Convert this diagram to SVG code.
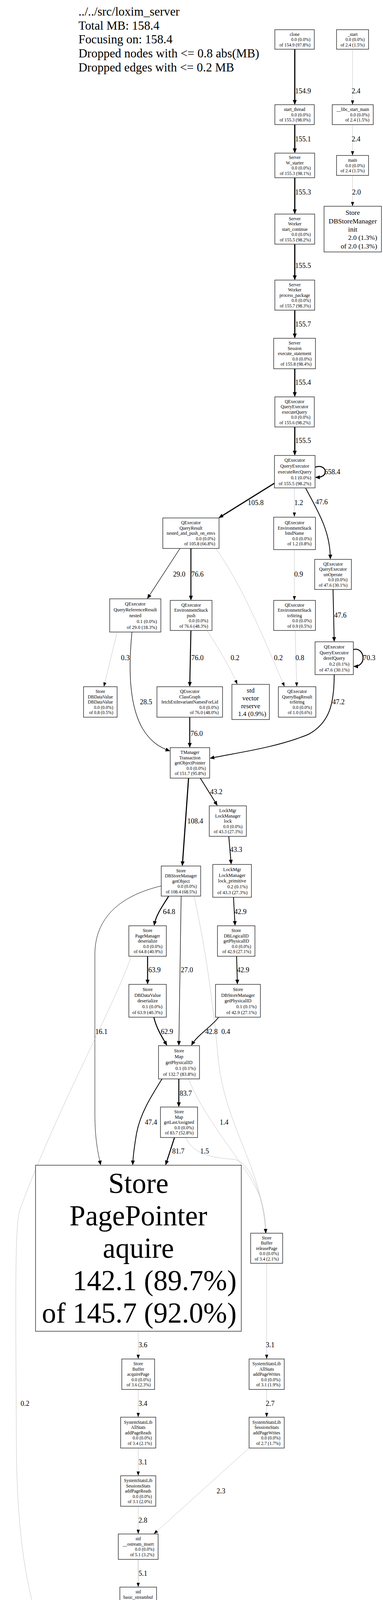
<svg xmlns="http://www.w3.org/2000/svg" width="981" height="4845" viewBox="0 0 981 4845">
<style>
text{font-family:"Liberation Serif","Times New Roman",serif;fill:#000}
.s{font-size:11.6px}
.md{font-size:12.2px}
.c{text-anchor:middle}
.r{text-anchor:end}
.l{font-size:18px}
.lc{font-size:18px;text-anchor:middle}
rect{fill:#fff;stroke:#333;stroke-width:1.5}
.e{fill:none;stroke:#000}
.f1{fill:none;stroke:#c4c4c4;stroke-width:1}
.f2{fill:none;stroke:#a0a0a0;stroke-width:1}
</style>
<defs>
<marker id="ah" markerUnits="userSpaceOnUse" markerWidth="12" markerHeight="10" refX="10" refY="5" orient="auto"><path d="M0,0 L12,5 L0,10 z" fill="#000"/></marker>
<marker id="as" markerUnits="userSpaceOnUse" markerWidth="11" markerHeight="8" refX="9" refY="4" orient="auto"><path d="M0,0 L11,4 L0,8 z" fill="#000"/></marker>
</defs>
<rect x="0" y="0" width="981" height="4845" style="fill:#fff;stroke:none"/>
<g id="legend" style="font-size:31.3px">
<text x="201" y="40">../../src/loxim_server</text>
<text x="201" y="75.7">Total MB: 158.4</text>
<text x="201" y="111.4">Focusing on: 158.4</text>
<text x="201" y="147.1">Dropped nodes with &lt;= 0.8 abs(MB)</text>
<text x="201" y="182.8">Dropped edges with &lt;= 0.2 MB</text>
</g>
<g id="edges">
<path class="e" stroke-width="3" marker-end="url(#ah)" d="M755 126V266"/>
<path class="f1" marker-end="url(#as)" d="M903 126V266"/>
<path class="e" stroke-width="3" marker-end="url(#ah)" d="M755 319V390"/>
<path class="f1" marker-end="url(#as)" d="M903 319V396"/>
<path class="e" stroke-width="3" marker-end="url(#ah)" d="M755 455V546"/>
<path class="f1" marker-end="url(#as)" d="M903 449V526"/>
<path class="e" stroke-width="3" marker-end="url(#ah)" d="M755 625V715"/>
<path class="e" stroke-width="3" marker-end="url(#ah)" d="M755 794V864"/>
<path class="e" stroke-width="3" marker-end="url(#ah)" d="M755 944V1014"/>
<path class="e" stroke-width="3" marker-end="url(#ah)" d="M755 1093V1164"/>
<path class="e" stroke-width="2.5" marker-end="url(#ah)" d="M807 1196C825 1190 834 1200 833 1209C832 1217 824 1222 809 1222"/>
<path class="e" stroke-width="3" marker-end="url(#ah)" d="M703 1237L561.7 1324.9"/>
<path class="f1" marker-end="url(#as)" d="M754 1249V1321"/>
<path class="e" stroke-width="2" marker-end="url(#ah)" d="M783 1250C815 1310 846 1360 846 1430"/>
<path class="e" stroke-width="1.3" marker-end="url(#ah)" d="M461 1404L378.1 1531.3"/>
<path class="e" stroke-width="2.5" marker-end="url(#ah)" d="M489 1404V1535"/>
<path class="f1" marker-end="url(#as)" d="M754 1407V1535"/>
<path class="e" stroke-width="2" marker-end="url(#ah)" d="M853 1509L856 1641"/>
<path class="e" stroke-width="2.5" marker-end="url(#ah)" d="M905 1663C920 1658 930 1672 930 1684C930 1697 921 1706 907 1706"/>
<path class="e" stroke-width="1.3" marker-end="url(#ah)" d="M338 1618C330 1700 328 1800 365 1865C385 1898 408 1913 434 1922"/>
<path class="f1" marker-end="url(#as)" d="M300 1618L266.5 1756"/>
<path class="e" stroke-width="2.5" marker-end="url(#ah)" d="M489 1614L486 1756"/>
<path class="f1" marker-end="url(#as)" d="M530 1614C560 1660 590 1710 607 1750"/>
<path class="f1" marker-end="url(#as)" d="M553 1404C620 1500 670 1620 728 1756"/>
<path class="f1" marker-end="url(#as)" d="M756 1614L760 1756"/>
<path class="e" stroke-width="2" marker-end="url(#ah)" d="M856 1727C856 1800 845 1850 790 1880C705 1915 600 1928 539 1941"/>
<path class="e" stroke-width="2.5" marker-end="url(#ah)" d="M486 1836V1912"/>
<path class="e" stroke-width="2.8" marker-end="url(#ah)" d="M483 1992L467.1 2215"/>
<path class="e" stroke-width="2" marker-end="url(#ah)" d="M513 1992L556 2061"/>
<path class="e" stroke-width="2" marker-end="url(#ah)" d="M586 2141L592 2211"/>
<path class="e" stroke-width="2.5" marker-end="url(#ah)" d="M432 2294C418 2318 400 2340 395 2368"/>
<path class="e" stroke-width="1.3" marker-end="url(#ah)" d="M464 2294L458.1 2675"/>
<path class="e" stroke-width="1" marker-end="url(#ah)" d="M413 2268C320 2290 245 2340 243 2440L243 2850C243 2920 252 2955 257.5 2981"/>
<path class="f1" marker-end="url(#as)" d="M497 2294C525 2420 545 2560 558 2700C572 2880 674 2990 680 3155"/>
<path class="e" stroke-width="2.5" marker-end="url(#ah)" d="M378 2448V2518"/>
<path class="f1" marker-end="url(#as)" d="M336 2448C300 2560 140 2850 50 3100C38 3150 40 3300 42 3700C44 4100 120 4330 304 4386"/>
<path class="e" stroke-width="2" marker-end="url(#ah)" d="M598 2297L602 2368"/>
<path class="e" stroke-width="2" marker-end="url(#ah)" d="M606 2448L608 2518"/>
<path class="e" stroke-width="2.5" marker-end="url(#ah)" d="M394 2604C400 2630 413 2652 427 2675"/>
<path class="e" stroke-width="2" marker-end="url(#ah)" d="M560 2604C540 2630 505 2650 491 2675"/>
<path class="e" stroke-width="2.5" marker-end="url(#ah)" d="M458 2762V2832"/>
<path class="e" stroke-width="2" marker-end="url(#ah)" d="M415 2762C385 2810 360 2850 350 2900C344 2935 341 2955 340 2981"/>
<path class="f1" marker-end="url(#as)" d="M483 2762C530 2880 640 2990 668 3070C676 3095 680 3120 681 3155"/>
<path class="e" stroke-width="2.5" marker-end="url(#ah)" d="M447 2912L424.6 2981"/>
<path class="f1" marker-end="url(#as)" d="M476 2912C495 2960 560 2965 600 2968C640 2975 675 3060 681 3155"/>
<path class="f1" marker-end="url(#as)" d="M354 3408V3477"/>
<path class="f1" marker-end="url(#as)" d="M683 3234V3477"/>
<path class="f1" marker-end="url(#as)" d="M354 3557V3626"/>
<path class="f1" marker-end="url(#as)" d="M683 3557V3626"/>
<path class="f1" marker-end="url(#as)" d="M354 3707V3776"/>
<path class="f1" marker-end="url(#as)" d="M638 3707L395.5 3925.5"/>
<path class="f1" marker-end="url(#as)" d="M354 3856V3925"/>
<path class="f2" marker-end="url(#as)" d="M354 3992V4061"/>
<path class="f2" marker-end="url(#as)" d="M354 4141V4211"/>
<path class="f2" marker-end="url(#as)" d="M354 4290V4360"/>
<path class="f1" marker-end="url(#as)" d="M434 4290L389.1 4360.3"/>
<path class="f2" marker-end="url(#as)" d="M354 4440V4510"/>
<path class="f1" marker-end="url(#as)" d="M465 4440V4516"/>
<path class="f2" marker-end="url(#as)" d="M354 4602V4672"/>
<path class="f1" marker-end="url(#as)" d="M443 4596L403.9 4672.2"/>
</g>
<g id="edge-labels">
<text class="l" x="756" y="239">154.9</text>
<text class="lc" x="912" y="239">2.4</text>
<text class="l" x="756" y="362">155.1</text>
<text class="lc" x="912" y="362">2.4</text>
<text class="l" x="756" y="498">155.3</text>
<text class="lc" x="913" y="498">2.0</text>
<text class="l" x="756" y="686">155.5</text>
<text class="l" x="756" y="836">155.7</text>
<text class="l" x="756" y="985">155.4</text>
<text class="l" x="756" y="1134">155.5</text>
<text class="l" x="831" y="1214">658.4</text>
<text class="lc" x="655" y="1293">105.8</text>
<text class="lc" x="765" y="1293">1.2</text>
<text class="l" x="808" y="1291">47.6</text>
<text class="lc" x="459" y="1476">29.0</text>
<text class="l" x="490" y="1476">76.6</text>
<text class="lc" x="765" y="1476">0.9</text>
<text class="l" x="856" y="1581">47.6</text>
<text class="lc" x="321" y="1690">0.3</text>
<text class="l" x="490" y="1690">76.0</text>
<text class="lc" x="602" y="1690">0.2</text>
<text class="lc" x="713" y="1690">0.2</text>
<text class="lc" x="768" y="1690">0.8</text>
<text class="l" x="930" y="1690">70.3</text>
<text class="lc" x="374" y="1803">28.5</text>
<text class="lc" x="867" y="1803">47.2</text>
<text class="l" x="488" y="1884">76.0</text>
<text class="lc" x="554" y="2033">43.2</text>
<text class="lc" x="500" y="2108">108.4</text>
<text class="l" x="589" y="2181">43.3</text>
<text class="lc" x="433" y="2340">64.8</text>
<text class="l" x="600" y="2340">42.9</text>
<text class="l" x="380" y="2489">63.9</text>
<text class="l" x="463" y="2489">27.0</text>
<text class="l" x="607" y="2489">42.9</text>
<text class="l" x="244" y="2647">16.1</text>
<text class="l" x="412" y="2647">62.9</text>
<text class="l" x="526" y="2647">42.8</text>
<text class="l" x="567" y="2647">0.4</text>
<text class="l" x="460" y="2805">83.7</text>
<text class="l" x="371" y="2879">47.4</text>
<text class="lc" x="574" y="2879">1.4</text>
<text class="l" x="441" y="2953">81.7</text>
<text class="lc" x="524" y="2953">1.5</text>
<text class="lc" x="366" y="3449">3.6</text>
<text class="lc" x="692" y="3449">3.1</text>
<text class="lc" x="64" y="3599">0.2</text>
<text class="lc" x="366" y="3599">3.4</text>
<text class="lc" x="692" y="3599">2.7</text>
<text class="lc" x="366" y="3749">3.1</text>
<text class="lc" x="566" y="3823">2.3</text>
<text class="lc" x="366" y="3898">2.8</text>
<text class="lc" x="366" y="4034">5.1</text>
<text class="lc" x="366" y="4183">5.7</text>
<text class="lc" x="366" y="4333">5.7</text>
<text class="lc" x="431" y="4333">1.4</text>
<text class="lc" x="366" y="4481">7.6</text>
<text class="lc" x="476" y="4481">2.3</text>
<text class="lc" x="366" y="4644">7.6</text>
<text class="lc" x="437" y="4644">2.3</text>
</g>
<g id="n_clone"><rect x="704" y="76" width="101" height="50"/><text class="s"><tspan class="c" x="754.5" y="91.5">clone</tspan><tspan class="r" x="795" y="105">0.0 (0.0%)</tspan><tspan class="r" x="795" y="118.5">of 154.9 (97.8%)</tspan></text></g>
<g id="n_start"><rect x="862" y="76" width="82" height="50"/><text class="s"><tspan class="c" x="903" y="91.5">_start</tspan><tspan class="r" x="934" y="105">0.0 (0.0%)</tspan><tspan class="r" x="934" y="118.5">of 2.4 (1.5%)</tspan></text></g>
<g id="n_start_thread"><rect x="704" y="268" width="101" height="51"/><text class="s"><tspan class="c" x="754.5" y="284">start_thread</tspan><tspan class="r" x="795" y="297.5">0.0 (0.0%)</tspan><tspan class="r" x="795" y="311">of 155.3 (98.0%)</tspan></text></g>
<g id="n_libc_start_main"><rect x="851" y="268" width="105" height="51"/><text class="s"><tspan class="c" x="903.5" y="284">__libc_start_main</tspan><tspan class="r" x="946" y="297.5">0.0 (0.0%)</tspan><tspan class="r" x="946" y="311">of 2.4 (1.5%)</tspan></text></g>
<g id="n_w_starter"><rect x="704" y="392" width="102" height="63"/><text class="s"><tspan class="c" x="755" y="407.3">Server</tspan><tspan class="c" x="755" y="420.8">W_starter</tspan><tspan class="r" x="796" y="434.3">0.0 (0.0%)</tspan><tspan class="r" x="796" y="447.8">of 155.3 (98.1%)</tspan></text></g>
<g id="n_main"><rect x="862" y="398" width="82" height="51"/><text class="s"><tspan class="c" x="903" y="414">main</tspan><tspan class="r" x="934" y="427.5">0.0 (0.0%)</tspan><tspan class="r" x="934" y="441">of 2.4 (1.5%)</tspan></text></g>
<g id="n_start_continue"><rect x="704" y="548" width="102" height="77"/><text class="s"><tspan class="c" x="755" y="563.6">Server</tspan><tspan class="c" x="755" y="577.1">Worker</tspan><tspan class="c" x="755" y="590.6">start_continue</tspan><tspan class="r" x="796" y="604.1">0.0 (0.0%)</tspan><tspan class="r" x="796" y="617.6">of 155.5 (98.2%)</tspan></text></g>
<g id="n_init"><rect x="830" y="528" width="147" height="117"/><text style="font-size:17.5px"><tspan class="c" x="903.5" y="550.1">Store</tspan><tspan class="c" x="903.5" y="571.5">DBStoreManager</tspan><tspan class="c" x="903.5" y="592.9">init</tspan><tspan class="r" x="966" y="614.3">2.0 (1.3%)</tspan><tspan class="r" x="966" y="635.7">of 2.0 (1.3%)</tspan></text></g>
<g id="n_process_package"><rect x="704" y="717" width="102" height="77"/><text class="s"><tspan class="c" x="755" y="732.6">Server</tspan><tspan class="c" x="755" y="746.1">Worker</tspan><tspan class="c" x="755" y="759.6">process_package</tspan><tspan class="r" x="796" y="773.1">0.0 (0.0%)</tspan><tspan class="r" x="796" y="786.6">of 155.7 (98.3%)</tspan></text></g>
<g id="n_execute_statement"><rect x="701" y="866" width="107" height="78"/><text class="s"><tspan class="c" x="754.5" y="882.1">Server</tspan><tspan class="c" x="754.5" y="895.6">Session</tspan><tspan class="c" x="754.5" y="909.1">execute_statement</tspan><tspan class="r" x="798" y="922.6">0.0 (0.0%)</tspan><tspan class="r" x="798" y="936.1">of 155.8 (98.4%)</tspan></text></g>
<g id="n_executeQuery"><rect x="704" y="1016" width="101" height="77"/><text class="s"><tspan class="c" x="754.5" y="1031.6">QExecutor</tspan><tspan class="c" x="754.5" y="1045.1">QueryExecutor</tspan><tspan class="c" x="754.5" y="1058.6">executeQuery</tspan><tspan class="r" x="795" y="1072.1">0.0 (0.0%)</tspan><tspan class="r" x="795" y="1085.6">of 155.6 (98.2%)</tspan></text></g>
<g id="n_executeRecQuery"><rect x="703" y="1166" width="104" height="83"/><text class="md"><tspan class="c" x="755" y="1182.3">QExecutor</tspan><tspan class="c" x="755" y="1197.1">QueryExecutor</tspan><tspan class="c" x="755" y="1211.9">executeRecQuery</tspan><tspan class="r" x="797" y="1226.7">0.1 (0.0%)</tspan><tspan class="r" x="797" y="1241.5">of 155.5 (98.2%)</tspan></text></g>
<g id="n_nested_and_push"><rect x="417" y="1326" width="144" height="78"/><text class="s"><tspan class="c" x="489" y="1342.1">QExecutor</tspan><tspan class="c" x="489" y="1355.6">QueryResult</tspan><tspan class="c" x="489" y="1369.1">nested_and_push_on_envs</tspan><tspan class="r" x="551" y="1382.6">0.0 (0.0%)</tspan><tspan class="r" x="551" y="1396.1">of 105.8 (66.8%)</tspan></text></g>
<g id="n_bindName"><rect x="701" y="1324" width="107" height="83"/><text class="s"><tspan class="c" x="754.5" y="1342.1">QExecutor</tspan><tspan class="c" x="754.5" y="1355.6">EnvironmentStack</tspan><tspan class="c" x="754.5" y="1369.1">bindName</tspan><tspan class="r" x="798" y="1382.6">0.0 (0.0%)</tspan><tspan class="r" x="798" y="1396.1">of 1.2 (0.8%)</tspan></text></g>
<g id="n_unOperate"><rect x="806" y="1432" width="94" height="77"/><text class="s"><tspan class="c" x="853" y="1447.6">QExecutor</tspan><tspan class="c" x="853" y="1461.1">QueryExecutor</tspan><tspan class="c" x="853" y="1474.6">unOperate</tspan><tspan class="r" x="890" y="1488.1">0.0 (0.0%)</tspan><tspan class="r" x="890" y="1501.6">of 47.6 (30.1%)</tspan></text></g>
<g id="n_qrr_nested"><rect x="281" y="1533" width="131" height="85"/><text class="md"><tspan class="c" x="346.5" y="1550.3">QExecutor</tspan><tspan class="c" x="346.5" y="1565.1">QueryReferenceResult</tspan><tspan class="c" x="346.5" y="1579.9">nested</tspan><tspan class="r" x="402" y="1594.7">0.1 (0.0%)</tspan><tspan class="r" x="402" y="1609.5">of 29.0 (18.3%)</tspan></text></g>
<g id="n_push"><rect x="436" y="1537" width="107" height="77"/><text class="s"><tspan class="c" x="489.5" y="1552.6">QExecutor</tspan><tspan class="c" x="489.5" y="1566.1">EnvironmentStack</tspan><tspan class="c" x="489.5" y="1579.6">push</tspan><tspan class="r" x="533" y="1593.1">0.0 (0.0%)</tspan><tspan class="r" x="533" y="1606.6">of 76.6 (48.3%)</tspan></text></g>
<g id="n_env_toString"><rect x="701" y="1537" width="107" height="77"/><text class="s"><tspan class="c" x="754.5" y="1552.6">QExecutor</tspan><tspan class="c" x="754.5" y="1566.1">EnvironmentStack</tspan><tspan class="c" x="754.5" y="1579.6">toString</tspan><tspan class="r" x="798" y="1593.1">0.0 (0.0%)</tspan><tspan class="r" x="798" y="1606.6">of 0.9 (0.5%)</tspan></text></g>
<g id="n_derefQuery"><rect x="807" y="1643" width="98" height="84"/><text class="md"><tspan class="c" x="856" y="1659.8">QExecutor</tspan><tspan class="c" x="856" y="1674.6">QueryExecutor</tspan><tspan class="c" x="856" y="1689.4">derefQuery</tspan><tspan class="r" x="895" y="1704.2">0.2 (0.1%)</tspan><tspan class="r" x="895" y="1719">of 47.6 (30.1%)</tspan></text></g>
<g id="n_dbdatavalue_ctor"><rect x="214" y="1758" width="86" height="78"/><text class="s"><tspan class="c" x="257" y="1774.1">Store</tspan><tspan class="c" x="257" y="1787.6">DBDataValue</tspan><tspan class="c" x="257" y="1801.1">DBDataValue</tspan><tspan class="r" x="290" y="1814.6">0.0 (0.0%)</tspan><tspan class="r" x="290" y="1828.1">of 0.8 (0.5%)</tspan></text></g>
<g id="n_classgraph"><rect x="402" y="1758" width="168" height="78"/><text class="s"><tspan class="c" x="486" y="1774.1">QExecutor</tspan><tspan class="c" x="486" y="1787.6">ClassGraph</tspan><tspan class="c" x="486" y="1801.1">fetchExtInvariantNamesForLid</tspan><tspan class="r" x="560" y="1814.6">0.0 (0.0%)</tspan><tspan class="r" x="560" y="1828.1">of 76.0 (48.0%)</tspan></text></g>
<g id="n_vector_reserve"><rect x="594" y="1752" width="96" height="90"/><text style="font-size:17px"><tspan class="c" x="642" y="1773">std</tspan><tspan class="c" x="642" y="1793">vector</tspan><tspan class="c" x="642" y="1813">reserve</tspan><tspan class="r" x="682" y="1833">1.4 (0.9%)</tspan></text></g>
<g id="n_bag_toString"><rect x="713" y="1758" width="96" height="78"/><text class="s"><tspan class="c" x="761" y="1774.1">QExecutor</tspan><tspan class="c" x="761" y="1787.6">QueryBagResult</tspan><tspan class="c" x="761" y="1801.1">toString</tspan><tspan class="r" x="799" y="1814.6">0.0 (0.0%)</tspan><tspan class="r" x="799" y="1828.1">of 1.0 (0.6%)</tspan></text></g>
<g id="n_tmanager"><rect x="436" y="1914" width="101" height="78"/><text class="s"><tspan class="c" x="486.5" y="1930.1">TManager</tspan><tspan class="c" x="486.5" y="1943.6">Transaction</tspan><tspan class="c" x="486.5" y="1957.1">getObjectPointer</tspan><tspan class="r" x="527" y="1970.6">0.0 (0.0%)</tspan><tspan class="r" x="527" y="1984.1">of 151.7 (95.8%)</tspan></text></g>
<g id="n_lock"><rect x="536" y="2063" width="95" height="78"/><text class="s"><tspan class="c" x="583.5" y="2079.1">LockMgr</tspan><tspan class="c" x="583.5" y="2092.6">LockManager</tspan><tspan class="c" x="583.5" y="2106.1">lock</tspan><tspan class="r" x="621" y="2119.6">0.0 (0.0%)</tspan><tspan class="r" x="621" y="2133.1">of 43.3 (27.3%)</tspan></text></g>
<g id="n_getObject"><rect x="413" y="2217" width="101" height="77"/><text class="s"><tspan class="c" x="463.5" y="2232.6">Store</tspan><tspan class="c" x="463.5" y="2246.1">DBStoreManager</tspan><tspan class="c" x="463.5" y="2259.6">getObject</tspan><tspan class="r" x="504" y="2273.1">0.0 (0.0%)</tspan><tspan class="r" x="504" y="2286.6">of 108.4 (68.5%)</tspan></text></g>
<g id="n_lock_primitive"><rect x="545" y="2213" width="99" height="84"/><text class="md"><tspan class="c" x="594.5" y="2229.8">LockMgr</tspan><tspan class="c" x="594.5" y="2244.6">LockManager</tspan><tspan class="c" x="594.5" y="2259.4">lock_primitive</tspan><tspan class="r" x="634" y="2274.2">0.2 (0.1%)</tspan><tspan class="r" x="634" y="2289">of 43.3 (27.3%)</tspan></text></g>
<g id="n_pagemanager_deserialize"><rect x="330" y="2370" width="96" height="78"/><text class="s"><tspan class="c" x="378" y="2386.1">Store</tspan><tspan class="c" x="378" y="2399.6">PageManager</tspan><tspan class="c" x="378" y="2413.1">deserialize</tspan><tspan class="r" x="416" y="2426.6">0.0 (0.0%)</tspan><tspan class="r" x="416" y="2440.1">of 64.8 (40.9%)</tspan></text></g>
<g id="n_dblogicalid"><rect x="557" y="2370" width="96" height="78"/><text class="s"><tspan class="c" x="605" y="2386.1">Store</tspan><tspan class="c" x="605" y="2399.6">DBLogicalID</tspan><tspan class="c" x="605" y="2413.1">getPhysicalID</tspan><tspan class="r" x="643" y="2426.6">0.0 (0.0%)</tspan><tspan class="r" x="643" y="2440.1">of 42.9 (27.1%)</tspan></text></g>
<g id="n_dbdatavalue_deserialize"><rect x="330" y="2520" width="96" height="84"/><text class="md"><tspan class="c" x="378" y="2536.8">Store</tspan><tspan class="c" x="378" y="2551.6">DBDataValue</tspan><tspan class="c" x="378" y="2566.4">deserialize</tspan><tspan class="r" x="416" y="2581.2">0.1 (0.0%)</tspan><tspan class="r" x="416" y="2596">of 63.9 (40.3%)</tspan></text></g>
<g id="n_dbstoremanager_getPhysicalID"><rect x="552" y="2520" width="115" height="84"/><text class="md"><tspan class="c" x="609.5" y="2536.8">Store</tspan><tspan class="c" x="609.5" y="2551.6">DBStoreManager</tspan><tspan class="c" x="609.5" y="2566.4">getPhysicalID</tspan><tspan class="r" x="657" y="2581.2">0.1 (0.1%)</tspan><tspan class="r" x="657" y="2596">of 42.9 (27.1%)</tspan></text></g>
<g id="n_map_getPhysicalID"><rect x="406" y="2677" width="105" height="85"/><text class="md"><tspan class="c" x="458.5" y="2694.3">Store</tspan><tspan class="c" x="458.5" y="2709.1">Map</tspan><tspan class="c" x="458.5" y="2723.9">getPhysicalID</tspan><tspan class="r" x="501" y="2738.7">0.1 (0.1%)</tspan><tspan class="r" x="501" y="2753.5">of 132.7 (83.8%)</tspan></text></g>
<g id="n_getLastAssigned"><rect x="411" y="2834" width="95" height="78"/><text class="s"><tspan class="c" x="458.5" y="2850.1">Store</tspan><tspan class="c" x="458.5" y="2863.6">Map</tspan><tspan class="c" x="458.5" y="2877.1">getLastAssigned</tspan><tspan class="r" x="496" y="2890.6">0.0 (0.0%)</tspan><tspan class="r" x="496" y="2904.1">of 83.7 (52.8%)</tspan></text></g>
<g id="n_pagepointer_aquire"><rect x="91" y="2983" width="527" height="425"/><text style="font-size:73px"><tspan class="c" x="354.5" y="3054">Store</tspan><tspan class="c" x="354.5" y="3137">PagePointer</tspan><tspan class="c" x="354.5" y="3220">aquire</tspan><tspan class="r" x="606" y="3303">142.1 (89.7%)</tspan><tspan class="r" x="606" y="3386">of 145.7 (92.0%)</tspan></text></g>
<g id="n_releasePage"><rect x="642" y="3157" width="82" height="77"/><text class="s"><tspan class="c" x="683" y="3172.6">Store</tspan><tspan class="c" x="683" y="3186.1">Buffer</tspan><tspan class="c" x="683" y="3199.6">releasePage</tspan><tspan class="r" x="714" y="3213.1">0.0 (0.0%)</tspan><tspan class="r" x="714" y="3226.6">of 3.4 (2.1%)</tspan></text></g>
<g id="n_acquirePage"><rect x="312" y="3479" width="84" height="78"/><text class="s"><tspan class="c" x="354" y="3495.1">Store</tspan><tspan class="c" x="354" y="3508.6">Buffer</tspan><tspan class="c" x="354" y="3522.1">acquirePage</tspan><tspan class="r" x="386" y="3535.6">0.0 (0.0%)</tspan><tspan class="r" x="386" y="3549.1">of 3.6 (2.3%)</tspan></text></g>
<g id="n_allstats_addPageWrites"><rect x="638" y="3479" width="90" height="78"/><text class="s"><tspan class="c" x="683" y="3495.1">SystemStatsLib</tspan><tspan class="c" x="683" y="3508.6">AllStats</tspan><tspan class="c" x="683" y="3522.1">addPageWrites</tspan><tspan class="r" x="718" y="3535.6">0.0 (0.0%)</tspan><tspan class="r" x="718" y="3549.1">of 3.1 (1.9%)</tspan></text></g>
<g id="n_allstats_addPageReads"><rect x="309" y="3628" width="90" height="79"/><text class="s"><tspan class="c" x="354" y="3644.6">SystemStatsLib</tspan><tspan class="c" x="354" y="3658.1">AllStats</tspan><tspan class="c" x="354" y="3671.6">addPageReads</tspan><tspan class="r" x="389" y="3685.1">0.0 (0.0%)</tspan><tspan class="r" x="389" y="3698.6">of 3.4 (2.1%)</tspan></text></g>
<g id="n_sessionsstats_addPageWrites"><rect x="638" y="3628" width="90" height="79"/><text class="s"><tspan class="c" x="683" y="3644.6">SystemStatsLib</tspan><tspan class="c" x="683" y="3658.1">SessionsStats</tspan><tspan class="c" x="683" y="3671.6">addPageWrites</tspan><tspan class="r" x="718" y="3685.1">0.0 (0.0%)</tspan><tspan class="r" x="718" y="3698.6">of 2.7 (1.7%)</tspan></text></g>
<g id="n_sessionsstats_addPageReads"><rect x="309" y="3778" width="90" height="78"/><text class="s"><tspan class="c" x="354" y="3794.1">SystemStatsLib</tspan><tspan class="c" x="354" y="3807.6">SessionsStats</tspan><tspan class="c" x="354" y="3821.1">addPageReads</tspan><tspan class="r" x="389" y="3834.6">0.0 (0.0%)</tspan><tspan class="r" x="389" y="3848.1">of 3.1 (2.0%)</tspan></text></g>
<g id="n_ostream_insert"><rect x="303" y="3927" width="102" height="65"/><text class="s"><tspan class="c" x="354" y="3943.3">std</tspan><tspan class="c" x="354" y="3956.8">__ostream_insert</tspan><tspan class="r" x="395" y="3970.3">0.0 (0.0%)</tspan><tspan class="r" x="395" y="3983.8">of 5.1 (3.2%)</tspan></text></g>
<g id="n_xsputn"><rect x="307" y="4063" width="94" height="78"/><text class="s"><tspan class="c" x="354" y="4079.1">std</tspan><tspan class="c" x="354" y="4092.6">basic_streambuf</tspan><tspan class="c" x="354" y="4106.1">xsputn</tspan><tspan class="r" x="391" y="4119.6">0.0 (0.0%)</tspan><tspan class="r" x="391" y="4133.1">of 5.7 (3.6%)</tspan></text></g>
<g id="n_overflow"><rect x="310" y="4213" width="88" height="77"/><text class="s"><tspan class="c" x="354" y="4228.6">std</tspan><tspan class="c" x="354" y="4242.1">basic_stringbuf</tspan><tspan class="c" x="354" y="4255.6">overflow</tspan><tspan class="r" x="388" y="4269.1">0.0 (0.0%)</tspan><tspan class="r" x="388" y="4282.6">of 5.7 (3.6%)</tspan></text></g>
<g id="n_append"><rect x="422" y="4213" width="83" height="77"/><text class="s"><tspan class="c" x="463.5" y="4228.6">std</tspan><tspan class="c" x="463.5" y="4242.1">string</tspan><tspan class="c" x="463.5" y="4255.6">append</tspan><tspan class="r" x="495" y="4269.1">0.0 (0.0%)</tspan><tspan class="r" x="495" y="4282.6">of 1.4 (0.9%)</tspan></text></g>
<g id="n_string_reserve"><rect x="312" y="4362" width="84" height="78"/><text class="s"><tspan class="c" x="354" y="4378.1">std</tspan><tspan class="c" x="354" y="4391.6">string</tspan><tspan class="c" x="354" y="4405.1">reserve</tspan><tspan class="r" x="386" y="4418.6">0.0 (0.0%)</tspan><tspan class="r" x="386" y="4432.1">of 7.6 (4.8%)</tspan></text></g>
<g id="n_basic_string"><rect x="424" y="4362" width="82" height="78"/><text class="s"><tspan class="c" x="465" y="4378.1">std</tspan><tspan class="c" x="465" y="4391.6">basic_string</tspan><tspan class="c" x="465" y="4405.1">basic_string</tspan><tspan class="r" x="496" y="4418.6">0.0 (0.0%)</tspan><tspan class="r" x="496" y="4432.1">of 2.3 (1.4%)</tspan></text></g>
<g id="n_M_clone"><rect x="312" y="4512" width="84" height="90"/><text class="s"><tspan class="c" x="354" y="4527.3">std</tspan><tspan class="c" x="354" y="4540.8">string</tspan><tspan class="c" x="354" y="4554.3">_Rep</tspan><tspan class="c" x="354" y="4567.8">_M_clone</tspan><tspan class="r" x="386" y="4581.3">0.0 (0.0%)</tspan><tspan class="r" x="386" y="4594.8">of 7.6 (4.8%)</tspan></text></g>
<g id="n_S_copy_chars"><rect x="419" y="4518" width="91" height="78"/><text class="s"><tspan class="c" x="464.5" y="4534.1">std</tspan><tspan class="c" x="464.5" y="4547.6">string</tspan><tspan class="c" x="464.5" y="4561.1">_S_copy_chars</tspan><tspan class="r" x="500" y="4574.6">0.0 (0.0%)</tspan><tspan class="r" x="500" y="4588.1">of 2.3 (1.4%)</tspan></text></g>
<g id="n_S_create"><rect x="285" y="4674" width="138" height="165"/><text style="font-size:27px"><tspan class="c" x="354" y="4705">std</tspan><tspan class="c" x="354" y="4735.4">string</tspan><tspan class="c" x="354" y="4765.8">_Rep</tspan><tspan class="c" x="354" y="4796.2">_S_create</tspan><tspan class="r" x="413" y="4826.6">9.9 (6.2%)</tspan></text></g>
</svg>
